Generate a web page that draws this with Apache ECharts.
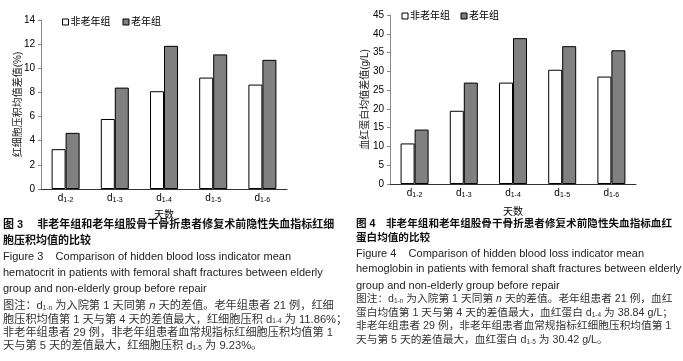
<!DOCTYPE html>
<html>
<head>
<meta charset="utf-8">
<script src="https://cdn.jsdelivr.net/npm/echarts@6/dist/echarts.min.js"></script>
<style>
  html, body { margin: 0; padding: 0; background: #fff; }
  #chart { width: 683px; height: 361px; }
</style>
</head>
<body>
<div id="chart"></div>
<script>
// 天数 (d1-n 下标)
const categories = ['1-2', '1-3', '1-4', '1-5', '1-6'];
const seriesNames = ['非老年组', '老年组'];
// 图3 红细胞压积均值差值(%)
const hctYoung = [3.3, 5.8, 8.1, 9.23, 8.65];
const hctOld = [4.65, 8.4, 11.86, 11.15, 10.7];
// 图4 血红蛋白均值差值(g/L)
const hbYoung = [10.8, 19.5, 27.0, 30.42, 28.6];
const hbOld = [14.5, 27.0, 38.84, 36.7, 35.6];

const capLeft = [
  '图 3　 非老年组和老年组股骨干骨折患者修复术前隐性失血指标红细',
  '胞压积均值的比较',
  'Figure 3    Comparison of hidden blood loss indicator mean',
  'hematocrit in patients with femoral shaft fractures between elderly',
  'group and non-elderly group before repair',
  '图注：d{s|1-n} 为入院第 1 天同第 {i|n} 天的差值。老年组患者 21 例，红细',
  '胞压积均值第 1 天与第 4 天的差值最大，红细胞压积 d{s|1-4} 为 11.86%；',
  '非老年组患者 29 例，非老年组患者血常规指标红细胞压积均值第 1',
  '天与第 5 天的差值最大，红细胞压积 d{s|1-5} 为 9.23%。'
];
const capRight = [
  '图 4　非老年组和老年组股骨干骨折患者修复术前隐性失血指标血红',
  '蛋白均值的比较',
  'Figure 4    Comparison of hidden blood loss indicator mean',
  'hemoglobin in patients with femoral shaft fractures between elderly',
  'group and non-elderly group before repair',
  '图注：d{s|1-n} 为入院第 1 天同第 {i|n} 天的差值。老年组患者 21 例，血红',
  '蛋白均值第 1 天与第 4 天的差值最大，血红蛋白 d{s|1-4} 为 38.84 g/L；',
  '非老年组患者 29 例，非老年组患者血常规指标红细胞压积均值第 1',
  '天与第 5 天的差值最大，血红蛋白 d{s|1-5} 为 30.42 g/L。'
];

const FONT = 'Liberation Sans, Arial, "Noto Sans CJK SC", sans-serif';
const myChart = echarts.init(document.getElementById('chart'));

const subRich = {
  s: { fontSize: 7, fontFamily: FONT, color: '#000', padding: [4, 0, 0, 0] }
};

// 坐标轴公共样式
const xAxisBase = (idx, gap) => ({
  type: 'category',
  gridIndex: idx,
  data: categories,
  name: '天数',
  nameLocation: 'middle',
  nameGap: gap,
  nameMoveOverlap: false,
  nameTextStyle: { fontSize: 10, color: '#000', fontFamily: FONT },
  axisLine: { lineStyle: { color: '#333', width: 1 } },
  axisTick: { inside: true, length: 4, lineStyle: { color: '#666' } },
  axisLabel: {
    margin: 4,
    fontSize: 10,
    color: '#000',
    fontFamily: FONT,
    formatter: (v) => 'd{s|' + v + '}',
    rich: subRich
  }
});

const yAxisBase = (idx, max, interval, name, gap) => ({
  type: 'value',
  gridIndex: idx,
  min: 0,
  max: max,
  interval: interval,
  name: name,
  nameLocation: 'middle',
  nameGap: gap,
  nameMoveOverlap: false,
  nameTextStyle: { fontSize: 10, color: '#222', fontFamily: FONT },
  splitLine: { show: false },
  axisLine: { show: true, lineStyle: { color: '#888' } },
  axisTick: { show: true, length: 3, lineStyle: { color: '#888' } },
  axisLabel: { margin: 6, fontSize: 10, color: '#000', fontFamily: FONT }
});

const whiteStyle = { color: '#fff', borderColor: '#000', borderWidth: 1 };
const grayStyle = { color: '#808080', borderColor: '#000', borderWidth: 1 };

const barSeries = (name, data, idx, style) => ({
  name: name,
  type: 'bar',
  xAxisIndex: idx,
  yAxisIndex: idx,
  data: data,
  barWidth: 14,
  barGap: '0%',
  itemStyle: style,
  emphasis: { disabled: true }
});

// 图注文字：sizes = [标题, 英文, 图注]
const capText = (lines, x, ys, sizes) => lines.map((t, i) => ({
  type: 'text',
  x: x,
  y: ys[i],
  silent: true,
  style: {
    text: t,
    verticalAlign: 'middle',
    fill: i < 2 ? '#111' : (i < 5 ? '#222' : '#333'),
    fontSize: i < 2 ? sizes[0] : (i < 5 ? sizes[1] : sizes[2]),
    fontWeight: i < 2 ? 'bold' : 'normal',
    fontFamily: FONT,
    rich: {
      s: { fontSize: 6.5, fontFamily: FONT, fill: '#333', padding: [4, 0, 0, 0] },
      i: { fontSize: sizes[2], fontStyle: 'italic', fontFamily: FONT, fill: '#333' }
    }
  }
}));

myChart.setOption({
  animation: false,
  backgroundColor: '#fff',
  grid: [
    { left: 41, top: 20, width: 246, height: 169 },
    { left: 390, top: 15, width: 246, height: 169 }
  ],
  legend: [
    {
      left: 57,
      top: 12,
      itemWidth: 6,
      itemHeight: 6,
      itemGap: 12,
      icon: 'rect',
      textStyle: { fontSize: 10, color: '#000', fontFamily: FONT, padding: [0, 0, 0, -3] },
      data: [
        { name: seriesNames[0], itemStyle: whiteStyle },
        { name: seriesNames[1], itemStyle: grayStyle }
      ]
    }
  ],
  xAxis: [xAxisBase(0, 21), xAxisBase(1, 23)],
  yAxis: [
    yAxisBase(0, 14, 2, '红细胞压积均值差值(%)', 18),
    yAxisBase(1, 45, 5, '血红蛋白均值差值(g/L)', 20)
  ],
  series: [
    barSeries(seriesNames[0], hctYoung, 0, whiteStyle),
    barSeries(seriesNames[1], hctOld, 0, grayStyle),
    barSeries(seriesNames[0], hbYoung, 1, whiteStyle),
    barSeries(seriesNames[1], hbOld, 1, grayStyle)
  ],
  graphic: [
    // 右图图例（同名系列，单独画）
    { type: 'rect', x: 402, y: 13, shape: { width: 6, height: 6 }, style: { fill: '#fff', stroke: '#000', lineWidth: 1 } },
    { type: 'text', x: 410, y: 16, style: { text: seriesNames[0], verticalAlign: 'middle', fontSize: 10, fontFamily: FONT, fill: '#000' } },
    { type: 'rect', x: 461, y: 13, shape: { width: 6, height: 6 }, style: { fill: '#808080', stroke: '#000', lineWidth: 1 } },
    { type: 'text', x: 469, y: 16, style: { text: seriesNames[1], verticalAlign: 'middle', fontSize: 10, fontFamily: FONT, fill: '#000' } },
    ...capText(capLeft, 3, [225, 241, 257, 272.5, 289, 306, 319.5, 333, 346], [11, 11, 11.2]),
    ...capText(capRight, 356, [224, 238.5, 254, 269, 285.5, 299.5, 313, 326.5, 340], [10.6, 11, 10.7])
  ]
});
</script>
</body>
</html>
